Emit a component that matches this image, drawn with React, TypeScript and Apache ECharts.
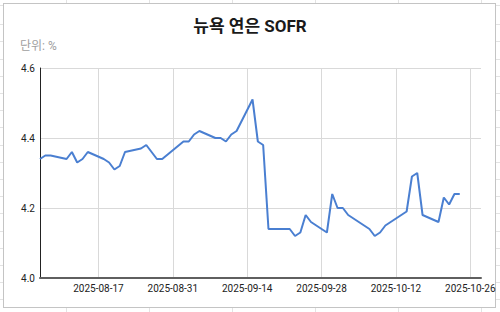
import React, { useEffect, useRef } from "react";
import * as echarts from "echarts";

const dates = [
  "2025-08-06", "2025-08-07", "2025-08-08", "2025-08-11", "2025-08-12", "2025-08-13", "2025-08-14", "2025-08-15",
  "2025-08-18", "2025-08-19", "2025-08-20", "2025-08-21", "2025-08-22", "2025-08-25", "2025-08-26", "2025-08-27",
  "2025-08-28", "2025-08-29", "2025-09-02", "2025-09-03", "2025-09-04", "2025-09-05", "2025-09-08", "2025-09-09",
  "2025-09-10", "2025-09-11", "2025-09-12", "2025-09-15", "2025-09-16", "2025-09-17", "2025-09-18", "2025-09-19",
  "2025-09-22", "2025-09-23", "2025-09-24", "2025-09-25", "2025-09-26", "2025-09-29", "2025-09-30", "2025-10-01",
  "2025-10-02", "2025-10-03", "2025-10-06", "2025-10-07", "2025-10-08", "2025-10-09", "2025-10-10", "2025-10-14",
  "2025-10-15", "2025-10-16", "2025-10-17", "2025-10-20", "2025-10-21", "2025-10-22", "2025-10-23", "2025-10-24",
];

const sofr = [
  4.34, 4.35, 4.35, 4.34, 4.36, 4.33, 4.34, 4.36,
  4.34, 4.33, 4.31, 4.32, 4.36, 4.37, 4.38, 4.36,
  4.34, 4.34, 4.39, 4.39, 4.41, 4.42, 4.40, 4.40,
  4.39, 4.41, 4.42, 4.51, 4.39, 4.38, 4.14, 4.14,
  4.14, 4.12, 4.13, 4.18, 4.16, 4.13, 4.24, 4.20,
  4.20, 4.18, 4.15, 4.14, 4.12, 4.13, 4.15, 4.19,
  4.29, 4.30, 4.18, 4.16, 4.23, 4.21, 4.24, 4.24,
];

const xTickLabels = ["2025-08-17", "2025-08-31", "2025-09-14", "2025-09-28", "2025-10-12", "2025-10-26"];
const xMinDate = "2025-08-06";
const xMaxDate = "2025-10-28";
const yTicks = [4.0, 4.2, 4.4, 4.6];

const titleText = "뉴욕 연은 SOFR";
const unitText = "단위: %";

const ts = (d: string) => Date.UTC(+d.slice(0, 4), +d.slice(5, 7) - 1, +d.slice(8, 10));
const pad = (n: number) => (n < 10 ? "0" + n : "" + n);
const fmt = (v: number) => {
  const d = new Date(v);
  return d.getUTCFullYear() + "-" + pad(d.getUTCMonth() + 1) + "-" + pad(d.getUTCDate());
};

const FONT = "Roboto, 'Noto Sans CJK KR', sans-serif";

export default function App() {
  const ref = useRef<HTMLDivElement>(null);

  useEffect(() => {
    document.body.style.margin = "0";
    if (!ref.current) return;
    const chart = echarts.init(ref.current, undefined, { renderer: "svg" });
    const tickVals = xTickLabels.map(ts);
    chart.setOption({
      animation: false,
      textStyle: { fontFamily: FONT },
      title: [
        {
          text: titleText,
          left: "center",
          top: 17,
          padding: 0,
          textStyle: { fontSize: 17, fontWeight: "bold", color: "#1a1a1a", fontFamily: FONT },
        },
        {
          text: unitText,
          left: 20,
          top: 40,
          padding: 0,
          textStyle: { fontSize: 12, fontWeight: "normal", color: "#9e9e9e", fontFamily: FONT },
        },
      ],
      grid: { left: 40, top: 68, right: 19, bottom: 34, containLabel: false },
      xAxis: {
        type: "value",
        min: ts(xMinDate),
        max: ts(xMaxDate),
        axisLine: { show: true, lineStyle: { color: "#5f5f5f", width: 2 } },
        axisTick: { show: false, customValues: tickVals },
        axisLabel: {
          customValues: tickVals,
          formatter: (v: number) => fmt(v),
          fontSize: 10,
          color: "#222",
          margin: 5,
          fontFamily: FONT,
        },
        splitLine: { show: true, lineStyle: { color: "#d9d9d9", width: 1 } },
      },
      yAxis: {
        type: "value",
        min: yTicks[0],
        max: yTicks[yTicks.length - 1],
        interval: 0.2,
        axisLine: { show: true, lineStyle: { color: "#222", width: 1 } },
        axisTick: { show: false },
        axisLabel: {
          formatter: (v: number) => v.toFixed(1),
          fontSize: 10,
          color: "#222",
          margin: 5,
          fontFamily: FONT,
        },
        splitLine: { show: true, lineStyle: { color: "#d9d9d9", width: 1 } },
      },
      series: [
        {
          type: "line",
          data: dates.map((d, i) => [ts(d), sofr[i]]),
          showSymbol: false,
          symbol: "none",
          lineStyle: { color: "#4a7fd1", width: 2 },
          itemStyle: { color: "#4a7fd1" },
        },
      ],
    });
    return () => chart.dispose();
  }, []);

  const sheetBg =
    "repeating-linear-gradient(to right, transparent 0px, transparent 82px, #e3e3e3 82px, #e3e3e3 83px)," +
    "repeating-linear-gradient(to bottom, transparent 0px, transparent 16.2px, #e3e3e3 16.2px, #e3e3e3 17.2px)";

  return (
    <div
      style={{
        position: "fixed",
        left: 0,
        top: 0,
        width: 500,
        height: 312,
        backgroundColor: "#fff",
        backgroundImage: sheetBg,
        backgroundPosition: "-16px 8px",
        overflow: "hidden",
      }}
    >
      <div
        style={{
          position: "absolute",
          left: 3,
          top: 3,
          width: 491,
          height: 303,
          background: "#fff",
          border: "1px solid #c4c4c4",
        }}
      />
      <div ref={ref} style={{ position: "absolute", left: 0, top: 0, width: 500, height: 312 }} />
    </div>
  );
}
